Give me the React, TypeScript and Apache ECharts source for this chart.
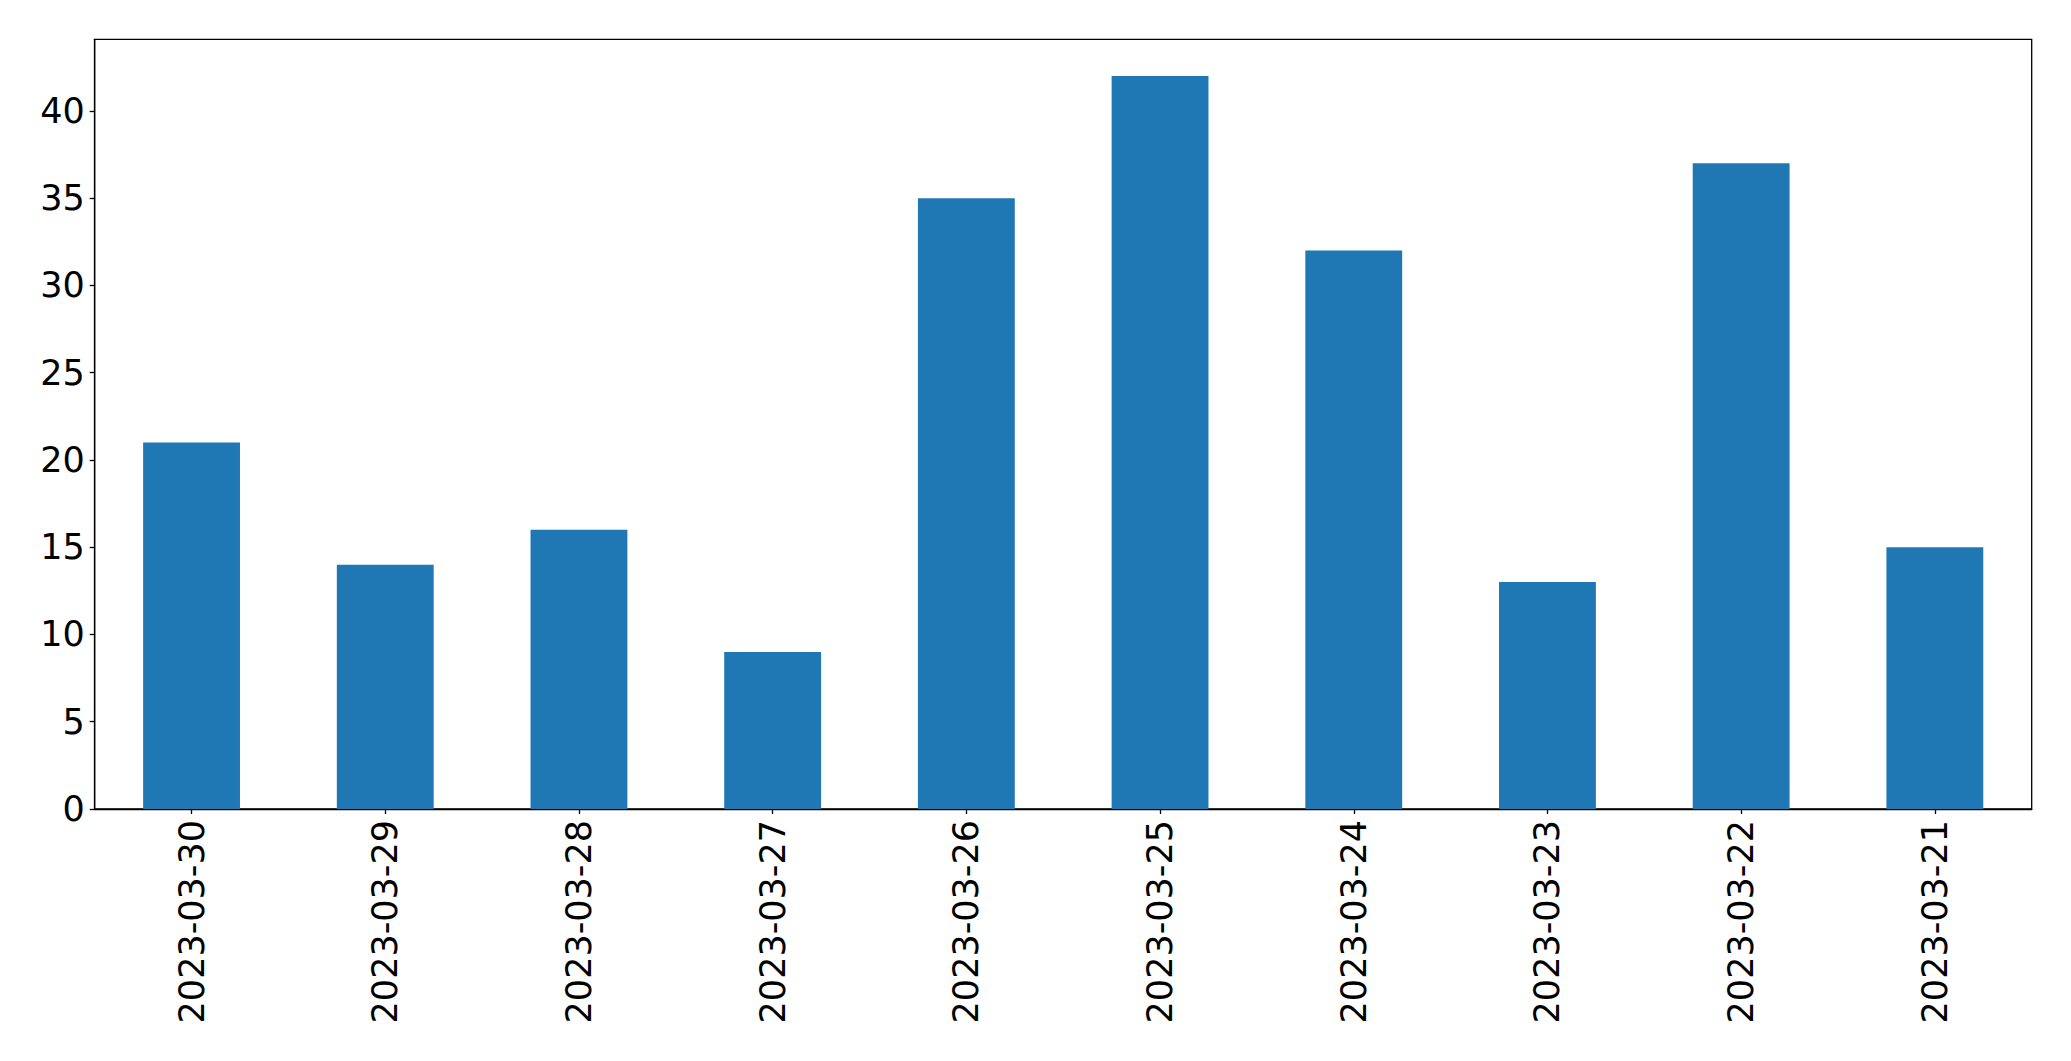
import React, { useEffect, useRef } from "react";
import * as echarts from "echarts";

const categories = ["2023-03-30", "2023-03-29", "2023-03-28", "2023-03-27", "2023-03-26", "2023-03-25", "2023-03-24", "2023-03-23", "2023-03-22", "2023-03-21"];
const values = [21, 14, 16, 9, 35, 42, 32, 13, 37, 15];
const yMax = 44.1;
const yInterval = 5;

export default function App() {
  const ref = useRef<HTMLDivElement>(null);
  useEffect(() => {
    if (!ref.current) return;
    const chart = echarts.init(ref.current, null, { renderer: "svg" });
    const font = "DejaVu Sans";
    chart.setOption({
      animation: false,
      backgroundColor: "#ffffff",
      grid: {
        left: 94.7,
        right: 39.3,
        top: 39.3,
        bottom: 252,
        show: true,
        borderColor: "#000000",
        borderWidth: 1.3,
        containLabel: false,
      },
      xAxis: {
        type: "category",
        data: categories,
        axisLine: { show: true, lineStyle: { color: "#000", width: 1.3 } },
        axisTick: { show: true, alignWithLabel: true, length: 5, lineStyle: { color: "#000", width: 1.3 } },
        axisLabel: {
          rotate: 90,
          fontSize: 35,
          fontFamily: font,
          color: "#000",
          margin: 11,
        },
        splitLine: { show: false },
      },
      yAxis: {
        type: "value",
        min: 0,
        max: yMax,
        interval: yInterval,
        axisLine: { show: true, lineStyle: { color: "#000", width: 1.3 } },
        axisTick: { show: true, length: 5, lineStyle: { color: "#000", width: 1.3 } },
        axisLabel: {
          fontSize: 35,
          fontFamily: font,
          color: "#000",
          margin: 10,
          showMaxLabel: false,
        },
        splitLine: { show: false },
      },
      series: [
        {
          type: "bar",
          data: values,
          barCategoryGap: "50%",
          itemStyle: { color: "#1f77b4" },
        },
      ],
    });
    return () => chart.dispose();
  }, []);
  return (
    <div
      ref={ref}
      style={{ position: "fixed", left: 0, top: 0, width: 2071, height: 1061, background: "#fff" }}
    />
  );
}
